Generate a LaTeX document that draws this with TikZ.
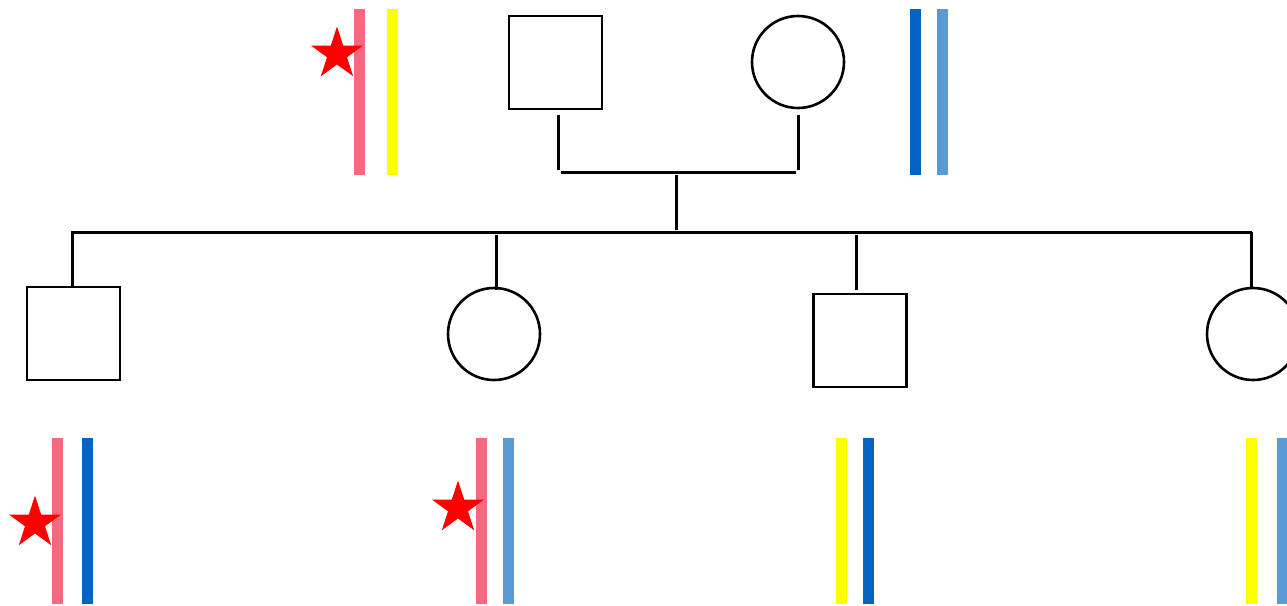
\documentclass[tikz,border=0pt]{standalone}
\usetikzlibrary{shapes.geometric}
\definecolor{cpink}{HTML}{F5687F}
\definecolor{cyel}{HTML}{FFFF00}
\definecolor{cblue}{HTML}{0563C1}
\definecolor{clblue}{HTML}{5B9BD5}
\definecolor{cred}{HTML}{FF0000}
\tikzset{
  male/.style={draw=black, line width=2.6pt, rectangle, minimum size=93pt, inner sep=0pt},
  female/.style={draw=black, line width=2.6pt, circle, minimum size=92pt, inner sep=0pt},
  link/.style={draw=black, line width=3pt},
  chrom/.style={line width=11pt},
  mut/.style={star, star points=5, star point ratio=2.618, fill=cred, minimum size=55pt, inner sep=0pt},
}
\begin{document}
\begin{tikzpicture}[x=1pt,y=-1pt]
\useasboundingbox (0,0) rectangle (1287,605);
% generation I
\node[male] (f) at (555.5,62.5) {};
\node[female] (m) at (798,62) {};
% generation II
\node[male] (c1) at (73.5,333.5) {};
\node[female] (c2) at (494,334) {};
\node[male] (c3) at (860,340.5) {};
\node[female] (c4) at (1253,334) {};
% pedigree lines
\coordinate (fa) at (558,115); \coordinate (fb) at (558,170);
\coordinate (ma) at (798,115); \coordinate (mb) at (798,170);
\coordinate (ca) at (561,172); \coordinate (cb) at (796,172);
\coordinate (da) at (676,175); \coordinate (db) at (676,230);
\coordinate (sa) at (71,232); \coordinate (sb) at (1252,232);
\coordinate (k1a) at (72,232); \coordinate (k1b) at (72,287);
\coordinate (k2a) at (496,235); \coordinate (k2b) at (496,290);
\coordinate (k3a) at (856,235); \coordinate (k3b) at (856,290);
\coordinate (k4a) at (1251,232); \coordinate (k4b) at (1251,287);
\draw[link] (fa) -- (fb);
\draw[link] (ma) -- (mb);
\draw[link] (ca) -- (cb);
\draw[link] (da) -- (db);
\draw[link] (sa) -- (sb);
\draw[link] (k1a) -- (k1b);
\draw[link] (k2a) -- (k2b);
\draw[link] (k3a) -- (k3b);
\draw[link] (k4a) -- (k4b);
% chromosomes
\draw[chrom,cpink] (359.5,9) -- (359.5,175);
\draw[chrom,cyel] (392.5,9) -- (392.5,175);
\draw[chrom,cblue] (915.5,9) -- (915.5,175);
\draw[chrom,clblue] (942.5,9) -- (942.5,175);
\draw[chrom,cpink] (57.5,438) -- (57.5,604);
\draw[chrom,cblue] (87.5,438) -- (87.5,604);
\draw[chrom,cpink] (481.5,438) -- (481.5,604);
\draw[chrom,clblue] (508.5,438) -- (508.5,604);
\draw[chrom,cyel] (841.5,438) -- (841.5,604);
\draw[chrom,cblue] (868.5,438) -- (868.5,604);
\draw[chrom,cyel] (1251.5,438) -- (1251.5,604);
\draw[chrom,clblue] (1282,438) -- (1282,604);
% mutation stars
\node[mut] (s0) at (337,54) {};
\node[mut] (s1) at (35,523) {};
\node[mut] (s2) at (458,508) {};
\end{tikzpicture}
\end{document}
